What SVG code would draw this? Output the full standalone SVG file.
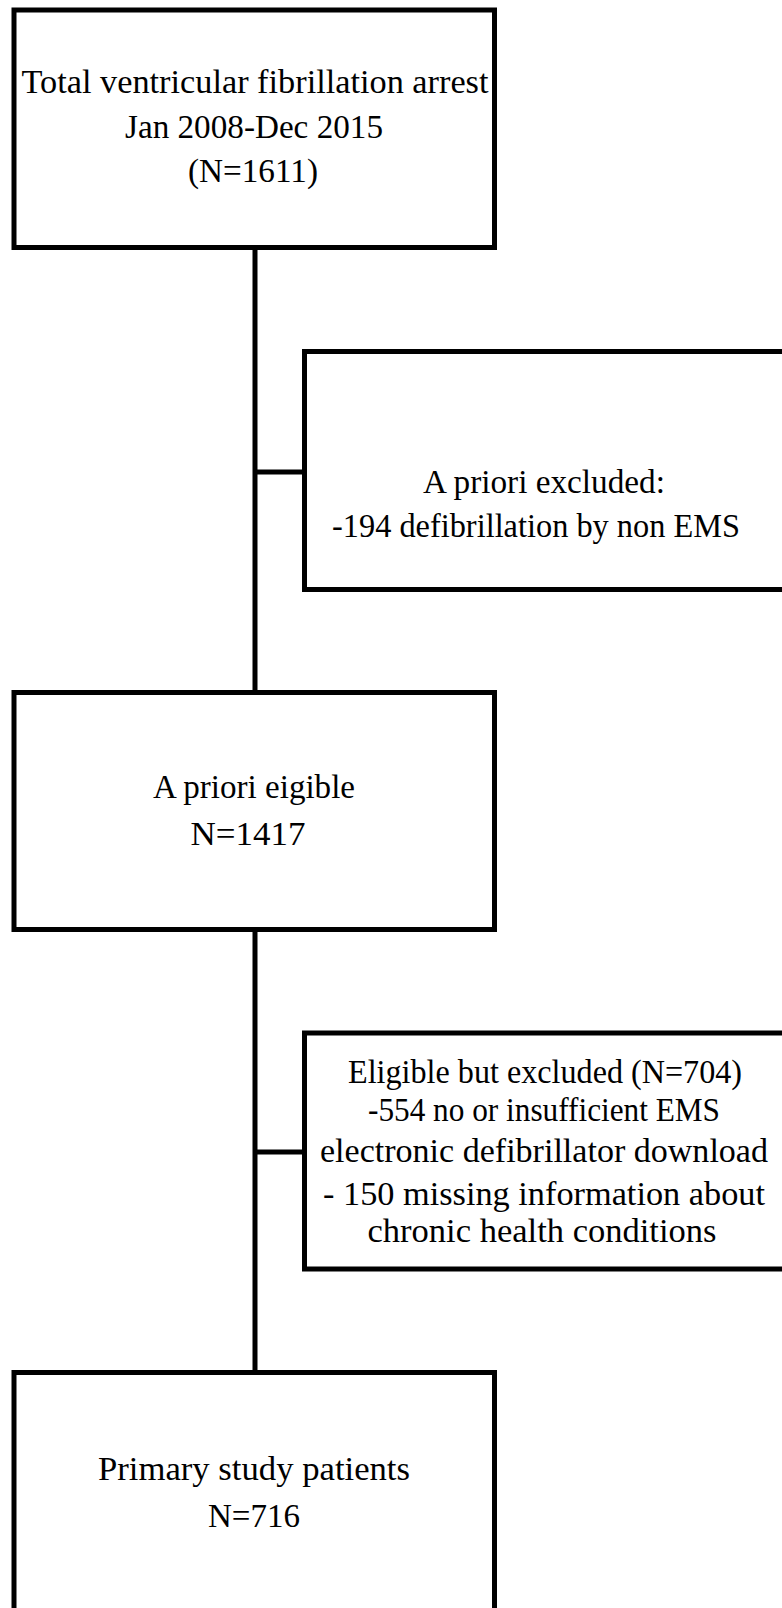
<svg xmlns="http://www.w3.org/2000/svg" width="782" height="1608" viewBox="0 0 782 1608">
<style>
.box{fill:#fff;stroke:#000;stroke-width:5}
.ln{stroke:#000;stroke-width:5;fill:none}
text{font-family:"Liberation Serif","Times New Roman",serif;font-size:34px;fill:#000;text-anchor:middle}
</style>
<rect width="782" height="1608" fill="#fff"/>
<g id="connectors">
<line class="ln" x1="255" y1="247" x2="255" y2="692"/>
<line class="ln" x1="255" y1="472" x2="304" y2="472"/>
<line class="ln" x1="255" y1="929" x2="255" y2="1372"/>
<line class="ln" x1="255" y1="1152" x2="304" y2="1152"/>
</g>
<g id="total">
<rect class="box" x="14" y="10" width="480.5" height="237.5"/>
<text x="255" y="93" textLength="467" lengthAdjust="spacingAndGlyphs">Total ventricular fibrillation arrest</text>
<text x="254" y="138" textLength="258" lengthAdjust="spacingAndGlyphs">Jan 2008-Dec 2015</text>
<text x="253" y="182" textLength="130" lengthAdjust="spacingAndGlyphs">(N=1611)</text>
</g>
<g id="excluded1">
<rect class="box" x="304.5" y="351.5" width="480" height="238"/>
<text x="544" y="493" textLength="242" lengthAdjust="spacingAndGlyphs">A priori excluded:</text>
<text x="536" y="537" textLength="408" lengthAdjust="spacingAndGlyphs">-194 defibrillation by non EMS</text>
</g>
<g id="eligible">
<rect class="box" x="14" y="692.5" width="480.5" height="237"/>
<text x="254" y="798" textLength="202" lengthAdjust="spacingAndGlyphs">A priori eigible</text>
<text x="248" y="845" textLength="115" lengthAdjust="spacingAndGlyphs">N=1417</text>
</g>
<g id="excluded2">
<rect class="box" x="304.5" y="1033" width="480" height="236"/>
<text x="545" y="1083" textLength="394" lengthAdjust="spacingAndGlyphs">Eligible but excluded (N=704)</text>
<text x="544" y="1121" textLength="352" lengthAdjust="spacingAndGlyphs">-554 no or insufficient EMS</text>
<text x="544" y="1162" textLength="448" lengthAdjust="spacingAndGlyphs">electronic defibrillator download</text>
<text x="544" y="1205" textLength="442" lengthAdjust="spacingAndGlyphs">- 150 missing information about</text>
<text x="542" y="1242" textLength="349" lengthAdjust="spacingAndGlyphs">chronic health conditions</text>
</g>
<g id="primary">
<rect class="box" x="14" y="1372.5" width="480.5" height="260"/>
<text x="254" y="1480" textLength="312" lengthAdjust="spacingAndGlyphs">Primary study patients</text>
<text x="254" y="1527" textLength="92" lengthAdjust="spacingAndGlyphs">N=716</text>
</g>
</svg>
